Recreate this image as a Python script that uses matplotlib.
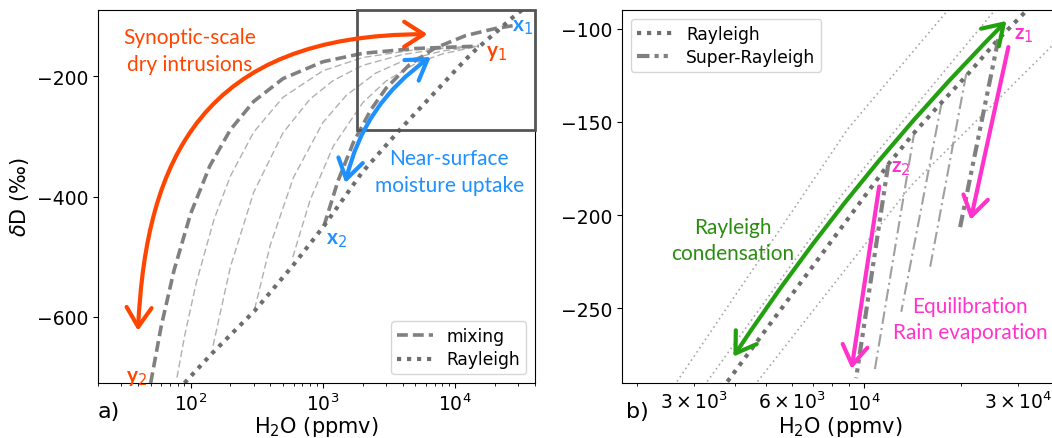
import matplotlib
matplotlib.use("Agg")
import matplotlib.pyplot as plt
from matplotlib.patches import Rectangle, FancyArrowPatch
from matplotlib.path import Path
from matplotlib.ticker import FuncFormatter

# ---------------- data ----------------
# Rayleigh distillation curve (H2O ppmv, dD permil)
ray_q = [90, 148, 305, 592, 1018, 1976, 3790, 12000, 14350, 17400, 20800, 26000, 31900, 40000]
ray_d = [-710, -659, -590, -515, -449, -360, -289.6, -172, -155.6, -139.5, -125, -105.7, -90, -80]

# thick mixing lines: y2 -> y1 and x2 -> x1
mixy_q = [50, 60, 75, 100, 140, 200, 300, 500, 1000, 2000, 5000, 15000]
mixy_d = [-710, -616, -523, -429, -349, -289, -242, -204, -176, -162, -154, -150]
mixx_q = [1018, 1300, 1700, 2300, 3000, 4500, 7000, 12000, 20000, 27400]
mixx_d = [-449, -374, -310, -256, -220, -181, -153.4, -132.5, -120.8, -116]

# thin mixing lines
thin1_q = [79, 90, 110, 150, 200, 300, 500, 1000, 2000, 5000, 15000]
thin1_d = [-701, -633, -545, -439, -366, -293, -235, -191, -169, -156, -150]
thin2_q = [148, 200, 300, 500, 800, 1200, 2000, 4000, 8000, 15000]
thin2_d = [-648, -517, -393, -294, -238, -207, -182, -164, -154, -150]
thin3_q = [305, 400, 600, 1000, 1500, 2500, 4000, 8000, 15000]
thin3_d = [-587, -481, -368, -277, -232, -195, -175, -158, -150]
thin4_q = [592, 800, 1200, 2000, 3000, 5000, 8000, 15000]
thin4_d = [-501, -406, -316, -244, -208, -179, -163, -150]

# panel b: other Rayleigh curves (thin dotted)
rb1_q = [2660, 6490, 8930, 18200]
rb1_d = [-289.2, -189.6, -153.8, -90]
rb2_q = [3295, 8530, 25400]
rb2_d = [-289.2, -189.6, -90]
rb3_q = [4710, 14030, 38500]
rb3_d = [-289.2, -184, -108.4]

# panel b: super-Rayleigh branches
sr1_q = [26000, 19800]
sr1_d = [-105.7, -207]
sr2_q = [11900, 9480]
sr2_d = [-173, -287.4]
sr3_q = [20700, 16000]
sr3_d = [-124.4, -228.6]
sr4_q = [17400, 13060]
sr4_d = [-139.5, -251.8]
sr5_q = [14350, 10800]
sr5_d = [-154.7, -283.9]

# tick labels for panel b
b_tick_labels = {3000: r"$3\times10^{3}$", 6000: r"$6\times10^{3}$", 30000: r"$3\times10^{4}$"}

# ---------------- style ----------------
ORANGE = "#ff4500"
BLUE = "#1e90ff"
GREEN = "#22a010"
GREEN_T = "#2a8c10"
MAGENTA = "#ff33cc"
DARK = "#6e6e6e"
MID = "#808080"
LIGHT = "#b0b0b0"
ANN_FONT = "Lato"

W, H = 1052, 439
fig = plt.figure(figsize=(W / 100, H / 100), dpi=100)
ax1 = fig.add_axes([98 / W, (H - 384) / H, 437 / W, 373 / H])
ax2 = fig.add_axes([622 / W, (H - 384) / H, 437 / W, 373 / H])

ray_style = dict(color=DARK, lw=3.0, ls=(0, (1, 1.4)), dash_capstyle="butt")
mix_style = dict(color=MID, lw=2.6, ls=(0, (3.0, 1.4)))
thin_style = dict(color=LIGHT, lw=1.0, ls=(0, (5, 2.5)))
arrow2 = "<->,head_length=0.7,head_width=0.45"
arrow1 = "->,head_length=0.7,head_width=0.45"

# ---------------- panel a ----------------
for q, d in [(thin1_q, thin1_d), (thin2_q, thin2_d), (thin3_q, thin3_d), (thin4_q, thin4_d)]:
    ax1.plot(q, d, **thin_style)
ax1.plot(mixy_q, mixy_d, label="mixing", **mix_style)
ax1.plot(mixx_q, mixx_d, **mix_style)
ax1.plot(ray_q, ray_d, label="Rayleigh", **ray_style)

ax1.set_xscale("log")
ax1.set_xlim(20, 40000)
ax1.set_ylim(-710, -90)
ax1.set_yticks([-600, -400, -200])
ax1.add_patch(Rectangle((1800, -290), 40000 - 1800, 200, fill=False,
                        edgecolor="#555555", lw=2.0, clip_on=False, zorder=5))

# orange curved double arrow (axes-fraction bezier)
verts = [(0.0915, 0.14), (0.11, 0.60), (0.24, 0.935), (0.754, 0.935)]
path = Path(verts, [Path.MOVETO, Path.CURVE4, Path.CURVE4, Path.CURVE4])
ax1.add_patch(FancyArrowPatch(path=path, transform=ax1.transAxes, arrowstyle=arrow2,
                              mutation_scale=20, color=ORANGE, lw=3.0, zorder=6))
# blue curved double arrow
ax1.add_patch(FancyArrowPatch(posA=(1462, -382), posB=(6790, -165.6),
                              connectionstyle="arc3,rad=-0.2", arrowstyle=arrow2,
                              mutation_scale=20, color=BLUE, lw=3.0, zorder=6))

ax1.text(99, -157, "Synoptic-scale\ndry intrusions", color=ORANGE, fontsize=15,
         family=ANN_FONT, ha="center", va="center", linespacing=1.45)
ax1.text(9000, -359, "Near-surface\nmoisture uptake", color=BLUE, fontsize=15,
         family=ANN_FONT, ha="center", va="center", linespacing=1.42)
ax1.text(32000, -116, r"x$_1$", color=BLUE, fontsize=15, family=ANN_FONT,
         weight="bold", ha="center", va="center")
ax1.text(1256, -470, r"x$_2$", color=BLUE, fontsize=15, family=ANN_FONT,
         weight="bold", ha="center", va="center")
ax1.text(20660, -159, r"y$_1$", color=ORANGE, fontsize=15, family=ANN_FONT,
         weight="bold", ha="center", va="center")
ax1.text(39, -700, r"y$_2$", color=ORANGE, fontsize=15, family=ANN_FONT,
         weight="bold", ha="center", va="center")

ax1.legend(loc="lower right", fontsize=12.3, handlelength=2.1, borderpad=0.35,
           labelspacing=0.3)
ax1.set_xlabel(r"H$_2$O (ppmv)", fontsize=15)
ax1.set_ylabel(r"$\delta$D (‰)", fontsize=15)

# ---------------- panel b ----------------
for q, d in [(rb1_q, rb1_d), (rb2_q, rb2_d), (rb3_q, rb3_d)]:
    ax2.plot(q, d, color="#a8a8a8", lw=1.2, ls=(0, (1, 2)))
for q, d in [(sr3_q, sr3_d), (sr4_q, sr4_d), (sr5_q, sr5_d)]:
    ax2.plot(q, d, color="#a0a0a0", lw=1.5, ls=(0, (6, 2, 1, 2)))
ax2.plot(ray_q, ray_d, label="Rayleigh", **ray_style)
ax2.plot(sr1_q, sr1_d, label="Super-Rayleigh", color=MID, lw=3.0,
         ls=(0, (3, 1.2, 1, 1.2, 1, 1.2)))
ax2.plot(sr2_q, sr2_d, color=MID, lw=3.0, ls=(0, (3, 1.2, 1, 1.2, 1, 1.2)))

ax2.set_xscale("log")
ax2.set_xlim(1800, 40000)
ax2.set_ylim(-290, -90)
ax2.set_yticks([-250, -200, -150, -100])
ax2.xaxis.set_minor_formatter(FuncFormatter(lambda v, p: b_tick_labels.get(int(round(v)), "")))

ax2.add_patch(FancyArrowPatch(posA=(3925, -277.1), posB=(27930, -94.8),
                              connectionstyle="arc3,rad=-0.05", arrowstyle=arrow2,
                              mutation_scale=20, color=GREEN, lw=3.0, zorder=6))
ax2.add_patch(FancyArrowPatch(posA=(28050, -108.4), posB=(21280, -204), arrowstyle=arrow1,
                              mutation_scale=20, color=MAGENTA, lw=3.0, zorder=6))
ax2.add_patch(FancyArrowPatch(posA=(11200, -183.2), posB=(9150, -283.9), arrowstyle=arrow1,
                              mutation_scale=20, color=MAGENTA, lw=3.0, zorder=6))

ax2.text(3945, -213.5, "Rayleigh\ncondensation", color=GREEN_T, fontsize=15,
         family=ANN_FONT, ha="center", va="center", linespacing=1.38)
ax2.text(21290, -255.5, "Equilibration\nRain evaporation", color=MAGENTA, fontsize=15,
         family=ANN_FONT, ha="center", va="center", linespacing=1.38)
ax2.text(31080, -103, r"z$_1$", color=MAGENTA, fontsize=15, family=ANN_FONT,
         weight="bold", ha="center", va="center")
ax2.text(13060, -174.3, r"z$_2$", color=MAGENTA, fontsize=15, family=ANN_FONT,
         weight="bold", ha="center", va="center")

ax2.legend(loc="upper left", fontsize=12.3, handlelength=2.1, borderpad=0.35,
           labelspacing=0.3)
ax2.set_xlabel(r"H$_2$O (ppmv)", fontsize=15)

for ax in (ax1, ax2):
    ax.tick_params(which="both", labelsize=13.5)
    ax.xaxis.set_label_coords(0.5, -0.083)

fig.text(109 / W, 1 - 412 / H, "a)", fontsize=16, ha="center", va="center")
fig.text(637 / W, 1 - 412 / H, "b)", fontsize=16, ha="center", va="center")

fig.savefig("out.png", dpi=100)
